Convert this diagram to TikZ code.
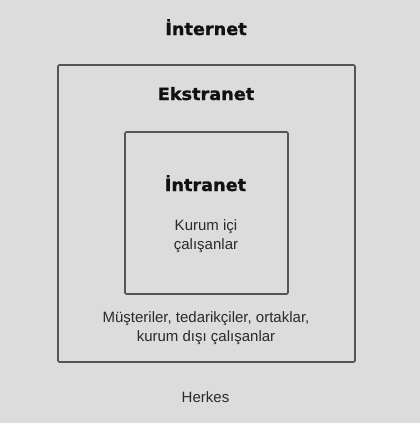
\documentclass[tikz,border=0pt]{standalone}
\usepackage{fontspec}
\setmainfont{Liberation Sans}
\newfontfamily\titlefont{DejaVu Sans}[BoldFeatures={FakeBold=1.2}]
\definecolor{bg}{HTML}{DCDCDC}
\definecolor{frame}{HTML}{555555}
\definecolor{ink}{HTML}{111111}
\definecolor{txt}{HTML}{2A2A2A}
\begin{document}
\begin{tikzpicture}[x=1pt,y=-1pt,
  boxst/.style={draw=frame, line width=1.6pt, rounded corners=1.2pt, inner sep=0pt},
  titlest/.style={anchor=base, inner sep=0pt, text=ink, font=\titlefont\bfseries\fontsize{17}{19}\selectfont, xscale=1.04},
  labelst/.style={anchor=base, inner sep=0pt, text=txt, align=center, font=\fontsize{15}{18.7}\selectfont}]
\fill[bg] (0,0) rectangle (420,423);
\useasboundingbox (0,0) rectangle (420,423);
\node[boxst, minimum width=297pt, minimum height=297pt] (ext) at (206.5,213.5) {};
\node[boxst, minimum width=163pt, minimum height=162pt] (intra) at (206.5,213) {};
\node[titlest] (tint) at (206,35) {İnternet};
\node[titlest] (text) at (206,100) {Ekstranet};
\node[titlest] (tintra) at (205.5,191) {İntranet};
\node[labelst] (lintra) at (206,249.5) {Kurum içi\\çalışanlar};
\node[labelst] (lext) at (206,341.5) {Müşteriler, tedarikçiler, ortaklar,\\kurum dışı çalışanlar};
\node[labelst] (lint) at (205.5,402.5) {Herkes};
\end{tikzpicture}
\end{document}
